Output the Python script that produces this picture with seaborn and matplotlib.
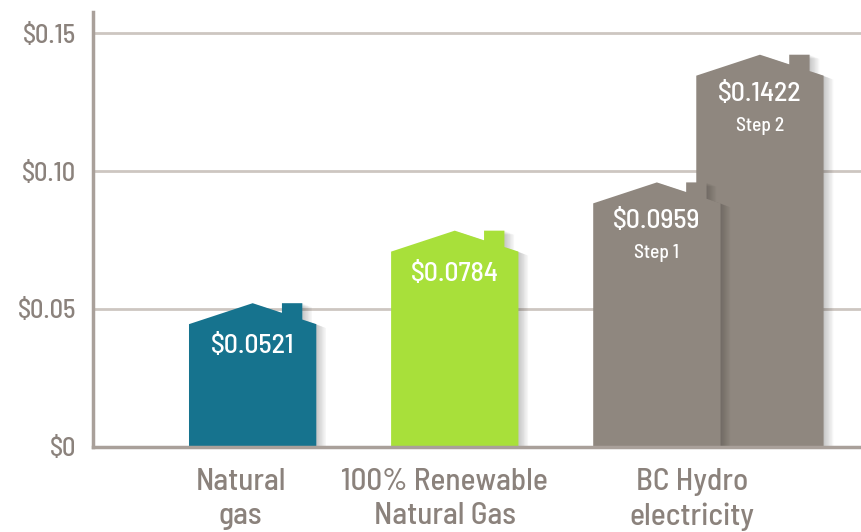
import numpy as np
import pandas as pd
import matplotlib
matplotlib.use("Agg")
import matplotlib.pyplot as plt
import matplotlib.patheffects as pe
from matplotlib.patches import Polygon
import seaborn as sns

# data
categories = ["Natural\ngas", "100% Renewable\nNatural Gas", "BC Hydro\nelectricity"]
costs = [0.0521, 0.0784, 0.0959]
value_labels = ["$0.0521", "$0.0784", "$0.0959"]
step_labels = ["", "", "Step 1"]
step2_cost = 0.1422
step2_value_label = "$0.1422"
step2_label = "Step 2"
bar_colors = ["#16738e", "#a8e03a", "#8f877f"]
yticks = [0, 0.05, 0.10, 0.15]
ytick_labels = ["$0", "$0.05", "$0.10", "$0.15"]

# layout
bar_w = 0.63
step_shift = 0.51
roof_h = 0.0076
axis_col = "#a9a09a"
grid_col = "#cdc6c1"
text_col = "#8b827c"

sns.set_theme(style="white")
plt.rcParams["font.family"] = ["Barlow Semi Condensed", "DejaVu Sans"]

fig = plt.figure(figsize=(8.61, 5.32), dpi=100)
ax = fig.add_axes([0.108, 0.16, 0.892, 0.817])

x_pos = np.arange(len(categories))
df = pd.DataFrame({"x": x_pos, "cost": costs, "source": categories})
df2 = pd.DataFrame({"x": [x_pos[-1] + step_shift], "cost": [step2_cost]})

# step 2 first so step 1 sits in front of it
sns.barplot(data=df2, x="x", y="cost", native_scale=True, width=bar_w,
            color=bar_colors[-1], saturation=1, orient="x", ax=ax)
sns.barplot(data=df, x="x", y="cost", hue="source", palette=bar_colors,
            native_scale=True, width=bar_w, saturation=1, orient="x",
            legend=False, ax=ax)

# soft drop shadow: a few faint offset copies
shadow = [pe.SimplePatchShadow(offset=(k, -0.4 * k), shadow_rgbFace="k", alpha=0.035)
          for k in range(1, 8)] + [pe.Normal()]

# turn each bar into a little house, peak at the value
for bar in list(ax.patches):
    x0, w, h = bar.get_x(), bar.get_width(), bar.get_height()
    xc = x0 + w / 2
    eave = h - roof_h
    c0, c1 = x0 + 0.73 * w, x0 + 0.89 * w
    slope = lambda x: h - roof_h * (x - xc) / (w / 2)
    pts = [(x0, 0), (x0, eave), (xc, h), (c0, slope(c0)), (c0, h),
           (c1, h), (c1, slope(c1)), (x0 + w, eave), (x0 + w, 0)]
    house = Polygon(pts, closed=True, facecolor=bar.get_facecolor(),
                    edgecolor="none", zorder=2, path_effects=shadow)
    ax.add_patch(house)
    bar.set_visible(False)

# value labels
def label(xc, h, val, step):
    eave = h - roof_h
    off = -13 if step else -16
    ax.annotate(val, (xc, eave), xytext=(0, off), textcoords="offset points",
                ha="center", va="center", color="white", fontsize=20,
                fontweight="medium", zorder=5)
    if step:
        ax.annotate(step, (xc, eave), xytext=(0, -36), textcoords="offset points",
                    ha="center", va="center", color="white", fontsize=14,
                    fontweight="medium", zorder=5)

for xi, c, v, s in zip(x_pos, costs, value_labels, step_labels):
    label(xi, c, v, s)
label(x_pos[-1] + step_shift, step2_cost, step2_value_label, step2_label)

ax.set_ylim(0, 0.1576)
ax.set_xlim(-0.79, 3.01)
ax.set_yticks(yticks)
ax.set_yticklabels(ytick_labels)
ax.set_xticks([0 - 0.06, 1 - 0.05, 2 + step_shift / 2 - 0.08])
ax.set_xticklabels(categories, linespacing=1.3)
ax.set_xlabel("")
ax.set_ylabel("")

ax.yaxis.grid(True, color=grid_col, linewidth=2)
ax.set_axisbelow(True)
for side in ["top", "right"]:
    ax.spines[side].set_visible(False)
for side in ["left", "bottom"]:
    ax.spines[side].set_color(axis_col)
    ax.spines[side].set_linewidth(2.5)
    ax.spines[side].set_zorder(3)
ax.tick_params(axis="y", length=0, pad=12, labelsize=19, labelcolor=text_col)
ax.tick_params(axis="x", length=0, pad=15, labelsize=22.5, labelcolor=text_col)
for t in ax.get_xticklabels() + ax.get_yticklabels():
    t.set_fontweight("medium")

fig.savefig("out.png", dpi=100, facecolor="white")
